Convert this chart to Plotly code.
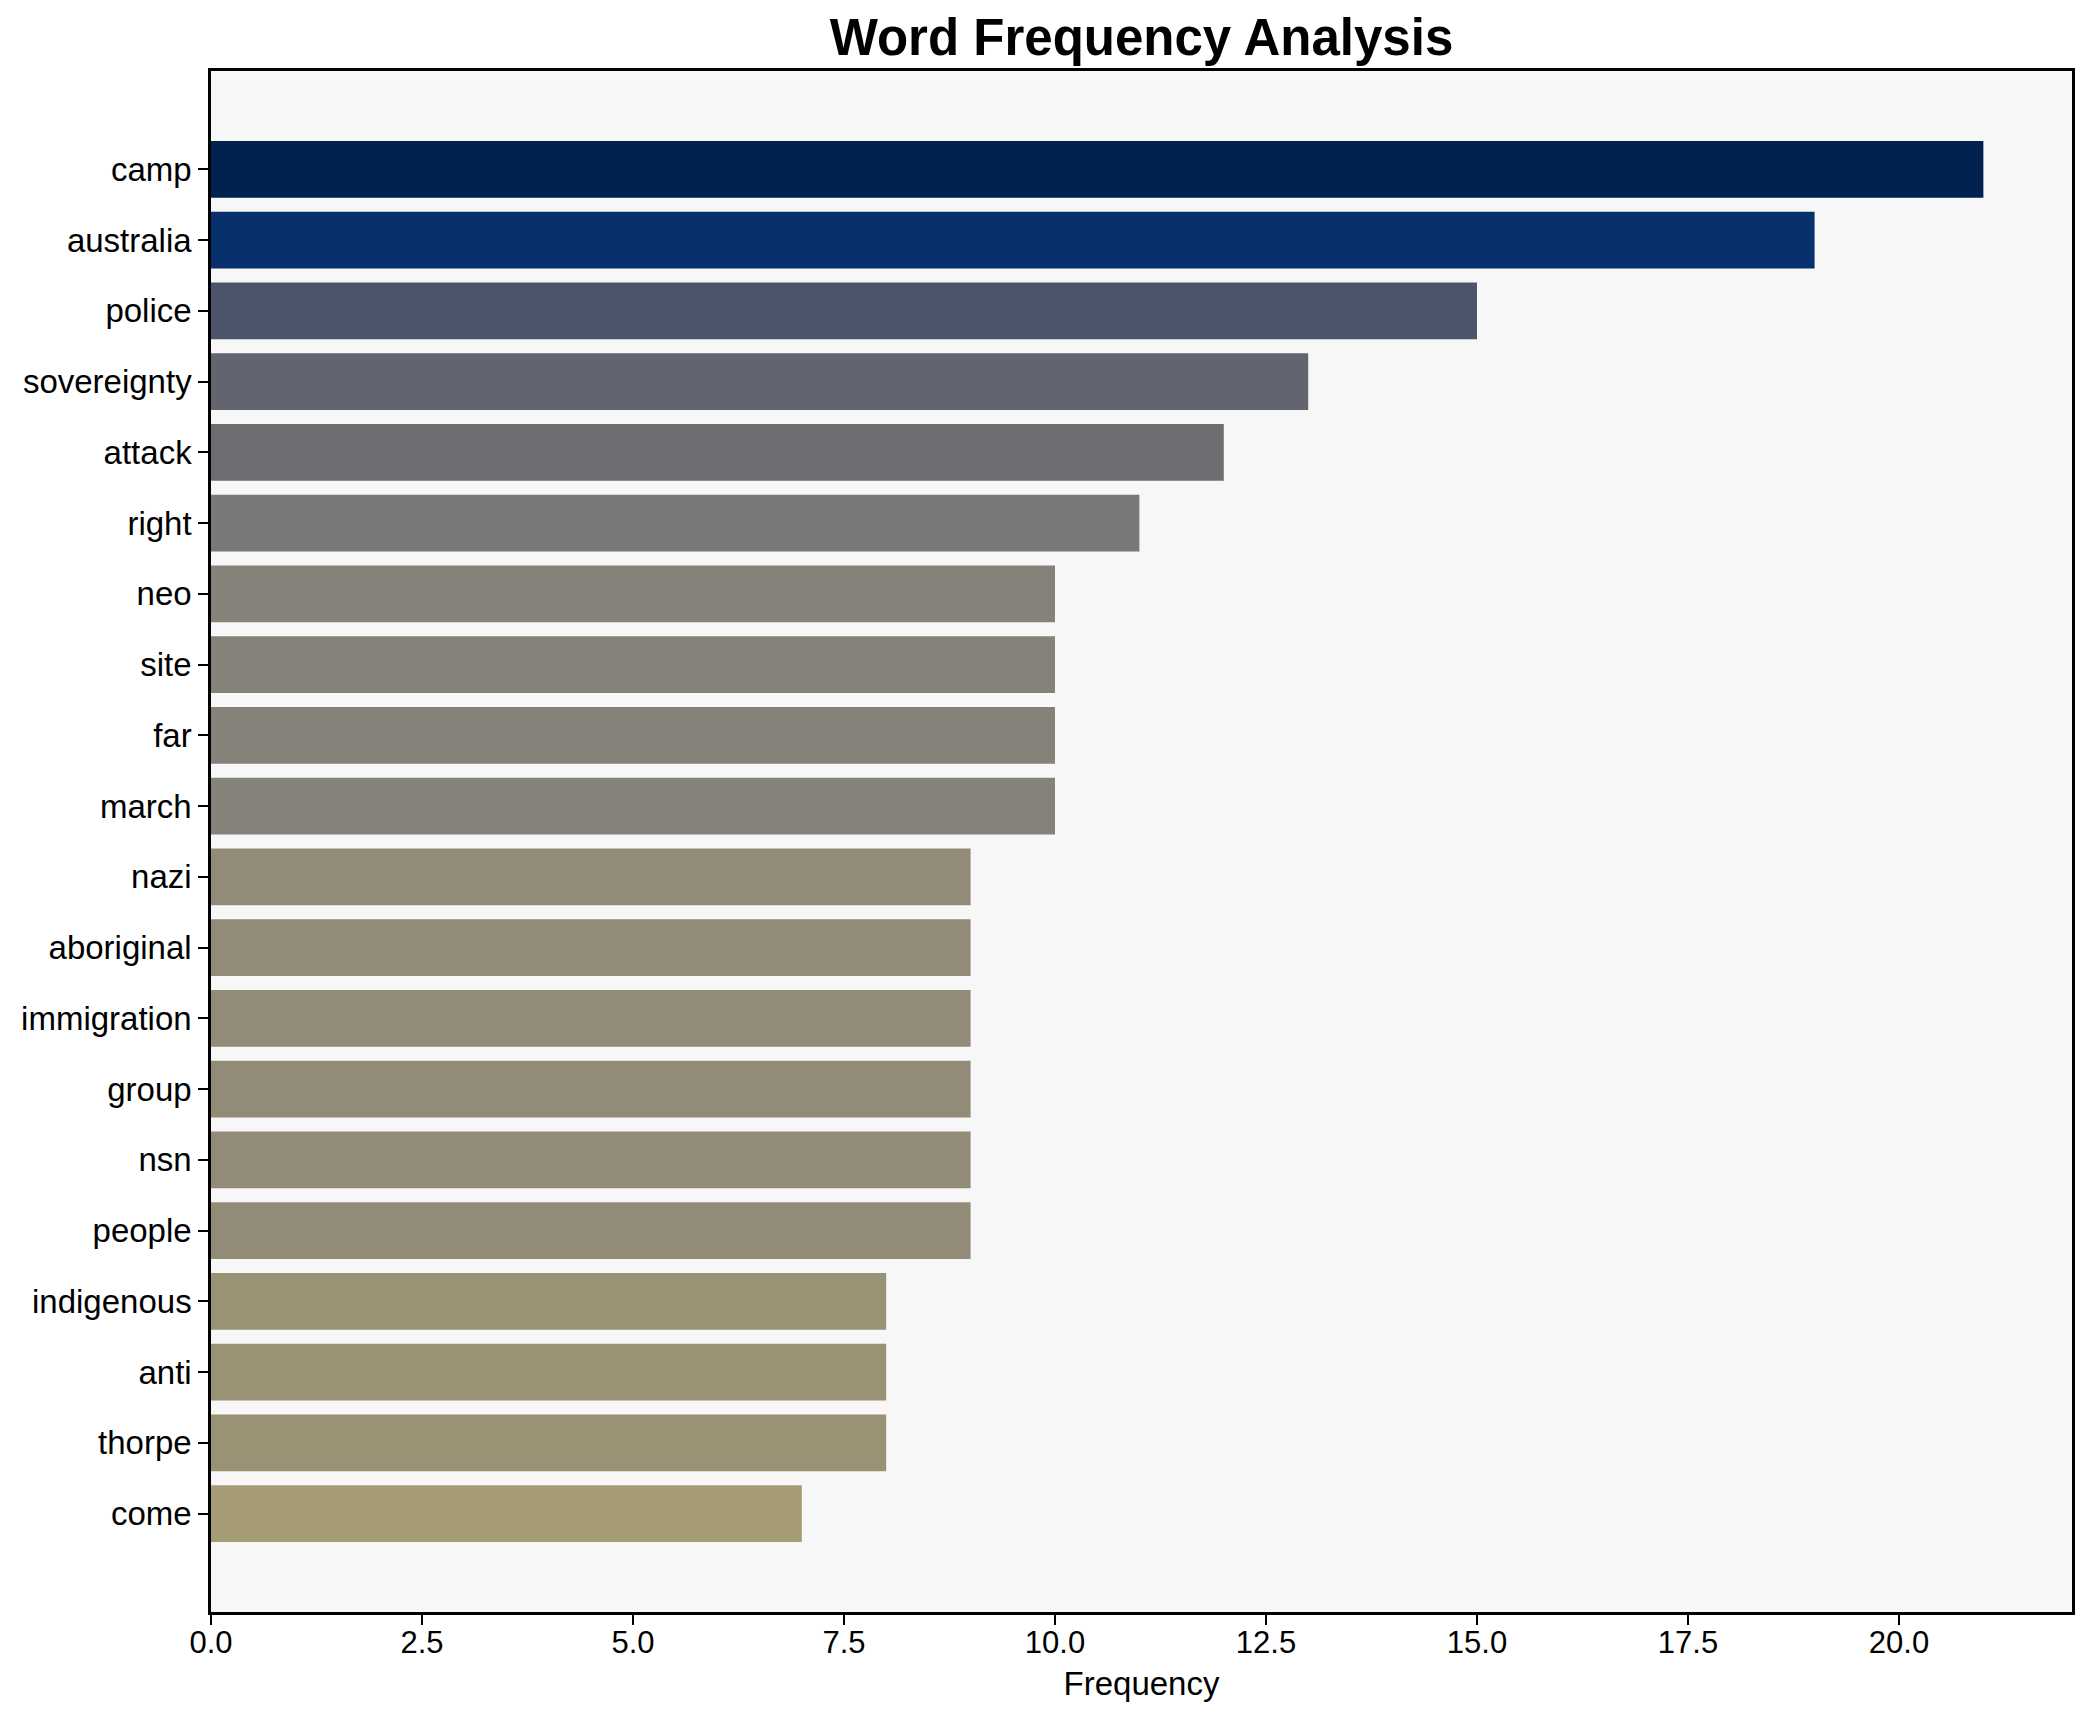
import plotly.graph_objects as go

words = ["camp", "australia", "police", "sovereignty", "attack", "right", "neo", "site", "far", "march",
         "nazi", "aboriginal", "immigration", "group", "nsn", "people", "indigenous", "anti", "thorpe", "come"]
freqs = [21, 19, 15, 13, 12, 11, 10, 10, 10, 10, 9, 9, 9, 9, 9, 9, 8, 8, 8, 7]
x_ticks = [0.0, 2.5, 5.0, 7.5, 10.0, 12.5, 15.0, 17.5, 20.0]

# cividis-like colors by frequency level
level_colors = {21: "#00224E", 19: "#07306C", 15: "#4C546C", 13: "#626470", 12: "#6C6E72",
                11: "#7A7977", 10: "#858279", 9: "#918B78", 8: "#9A9275", 7: "#A59C74"}
colors = [level_colors[v] for v in freqs]

W, H = 2091, 1722
L, R, T, B = 211, 2072, 71, 1612

fig = go.Figure(go.Bar(
    x=freqs, y=words, orientation="h", width=0.8,
    marker=dict(color=colors, line=dict(width=0)),
))

fig.update_layout(
    width=W, height=H,
    margin=dict(l=L, r=W - R, t=T, b=H - B, pad=0),
    paper_bgcolor="white", plot_bgcolor="#f7f7f7",
    font=dict(family="Liberation Sans, Arial, sans-serif", color="black"),
    title=dict(text="<b>Word Frequency Analysis</b>", x=0.5, xref="paper",
               y=1 - 37 / H, yref="container", xanchor="center", yanchor="middle",
               font=dict(size=51, family="Liberation Sans, Arial, sans-serif", color="black")),
    showlegend=False,
    bargap=0.2,
)

fig.update_xaxes(
    range=[0, 22.05], tickvals=x_ticks, ticktext=[f"{v:.1f}" for v in x_ticks],
    showgrid=False, zeroline=False, automargin=False,
    showline=True, linecolor="black", linewidth=2.5, mirror=True,
    ticks="outside", ticklen=10, tickwidth=2, tickcolor="black",
    tickfont=dict(size=31), ticklabelstandoff=-9,
    title=dict(text="Frequency", font=dict(size=33), standoff=13),
)
fig.update_yaxes(
    type="category", categoryorder="array", categoryarray=words,
    range=[19 + 1.39, -1.39],
    showgrid=False, zeroline=False, automargin=False,
    showline=True, linecolor="black", linewidth=2.5, mirror=True,
    ticks="outside", ticklen=10, tickwidth=2, tickcolor="black",
    tickfont=dict(size=33),
)

fig.write_html("out.html", config={"displayModeBar": False},
               post_script="document.body.style.margin='0';")
